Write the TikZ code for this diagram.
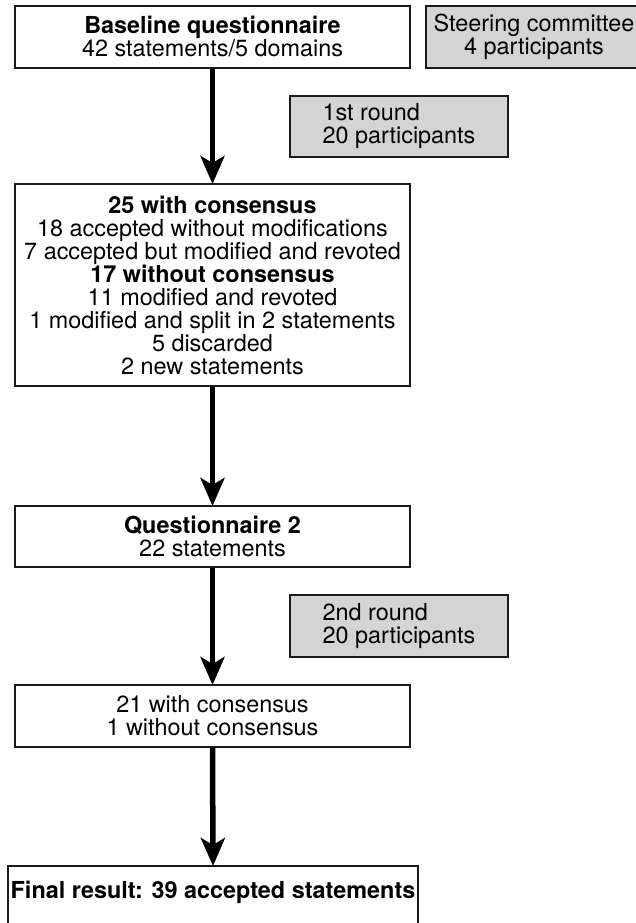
\documentclass[tikz,border=0pt]{standalone}
\usepackage{fontspec}
\setmainfont{TeX Gyre Heros}
\usetikzlibrary{arrows.meta}
\definecolor{boxgray}{HTML}{D4D4D4}
\definecolor{edge}{HTML}{1A1A1A}
\tikzset{
  txt/.style={font=\fontsize{23.4}{23}\selectfont},
  boldtxt/.style={font=\fontsize{23.4}{23}\selectfont\bfseries},
  box/.style={draw=edge, line width=2pt, fill=white, rectangle, inner sep=0pt,
    align=center, txt},
  graybox/.style={box, fill=boxgray},
  flow/.style={line width=5.5pt, draw=black,
    -{Stealth[length=28pt, width=24pt, inset=7pt]}, shorten >=-1pt}
}
\begin{document}
\begin{tikzpicture}[x=1pt, y=-1pt]
\useasboundingbox (0,0) rectangle (636,923);
\clip (0,0) rectangle (636,923);
\node[box, minimum width=395pt, minimum height=62pt] (base) at (212.5,37)
  {\textbf{Baseline questionnaire}\\42 statements/5 domains};
\node[graybox, minimum width=216pt, minimum height=62pt] (steer) at (534,37)
  {Steering committee\\4 participants};
\node[graybox, align=left, minimum width=218pt, minimum height=61pt] (r1) at (399,126.5)
  {1st round\\20 participants};
\node[box, minimum width=395pt, minimum height=202pt] (res1) at (212.5,285)
  {\textbf{25 with consensus}\\18 accepted without modifications\\7 accepted but modified and revoted\\\textbf{17 without consensus}\\11 modified and revoted\\1 modified and split in 2 statements\\5 discarded\\2 new statements};
\node[box, minimum width=395pt, minimum height=61pt] (q2) at (212.5,536.5)
  {\textbf{Questionnaire 2}\\22 statements};
\node[graybox, align=left, minimum width=218pt, minimum height=62pt] (r2) at (399,626)
  {2nd round\\20 participants};
\node[box, minimum width=395pt, minimum height=62pt] (res2) at (212.5,716)
  {21 with consensus\\1 without consensus};
\node[box, minimum width=410pt, minimum height=62pt, anchor=north] (final) at (213,865)
  {};
\node[boldtxt, inner sep=0pt] (finaltext) at (213,892)
  {Final result: 39 accepted statements};
\draw[flow] (base.south) -- (res1.north);
\draw[flow] (res1.south) -- (q2.north);
\draw[flow] (q2.south) -- (res2.north);
\draw[flow] (res2.south) -- (final.north);
\end{tikzpicture}
\end{document}
